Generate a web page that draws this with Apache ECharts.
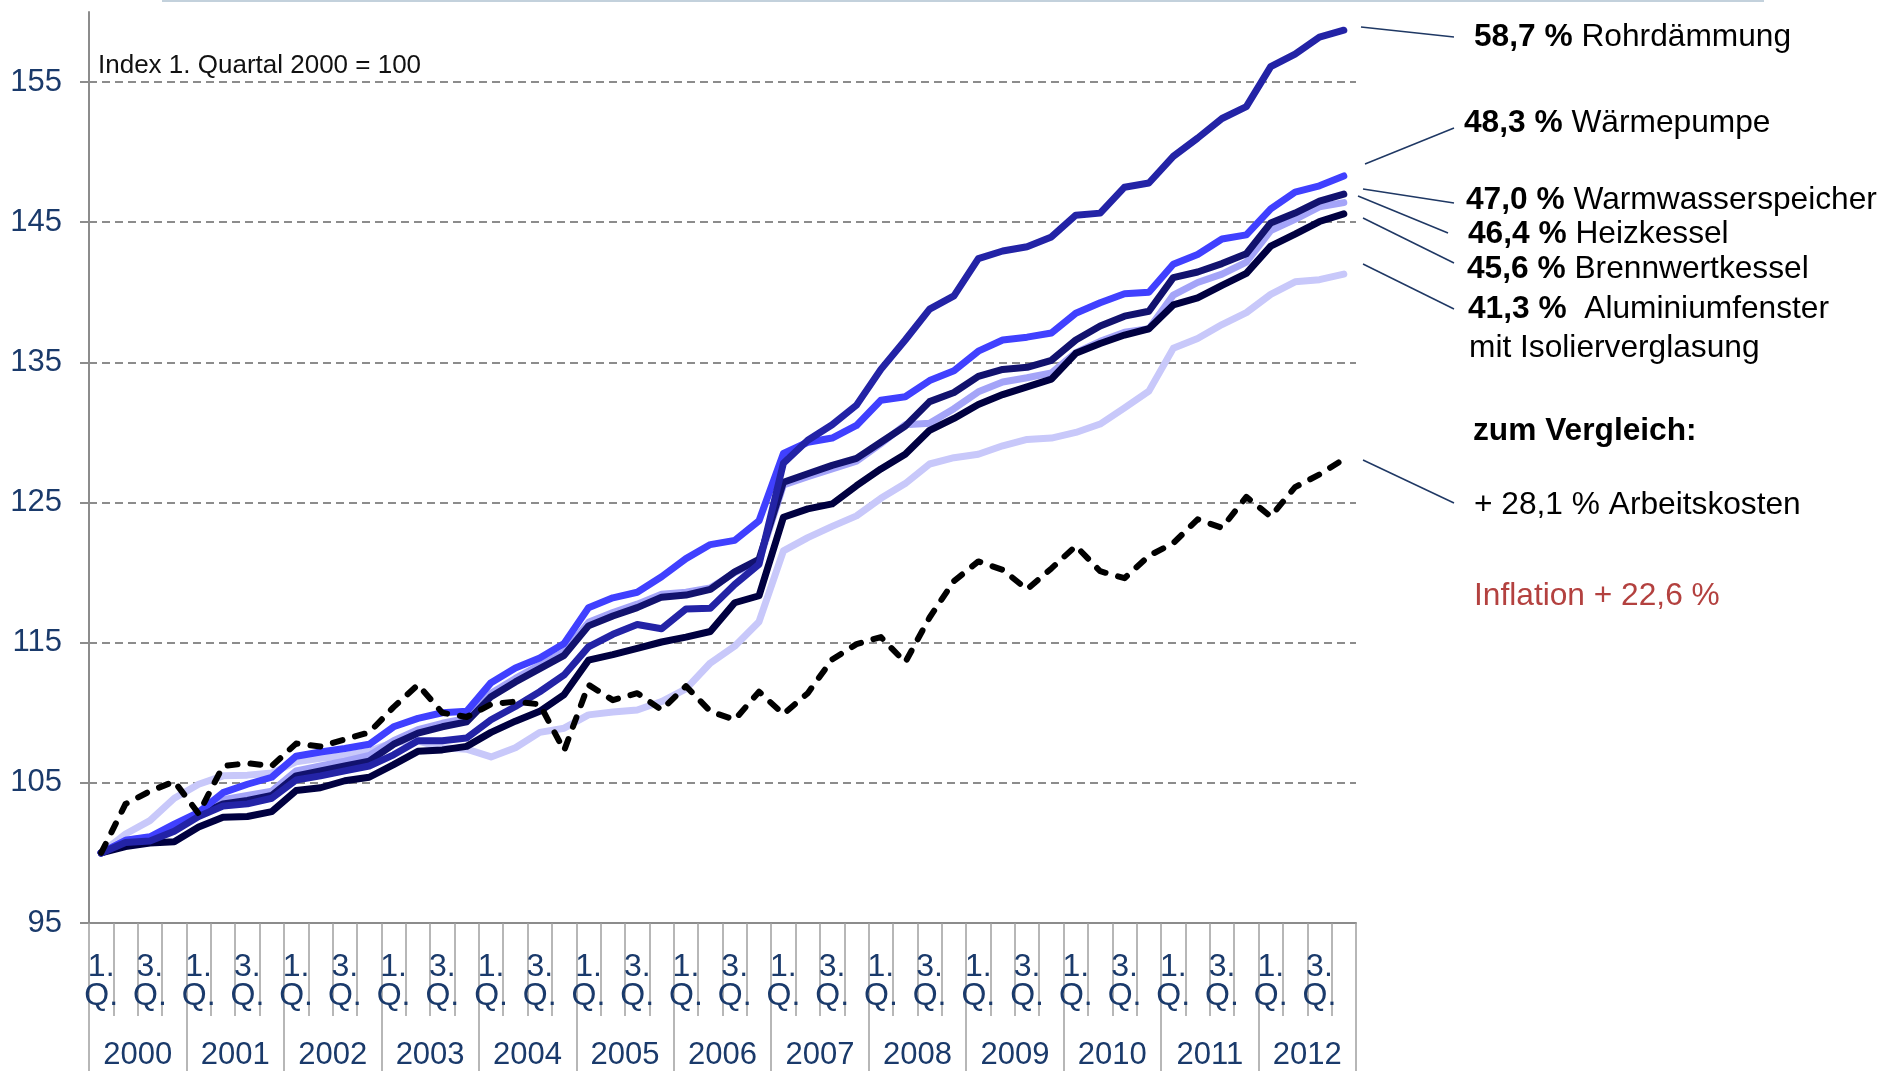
<!DOCTYPE html>
<html>
<head>
<meta charset="utf-8">
<script src="https://cdn.jsdelivr.net/npm/echarts@6/dist/echarts.min.js"></script>
<style>
  html, body { margin: 0; padding: 0; background: #fff; }
  #chart { width: 1882px; height: 1071px; }
</style>
</head>
<body>
<div id="chart"></div>
<script>
// Index 1. Quartal 2000 = 100, quarterly 2000 Q1 .. 2012 Q4
const years = ['2000', '2001', '2002', '2003', '2004', '2005', '2006', '2007', '2008', '2009', '2010', '2011', '2012'];
const quarterMarks = ['1.\nQ.', '', '3.\nQ.', ''];
const yTicks = [95, 105, 115, 125, 135, 145, 155];

const rohrdaemmung = [100, 100.75, 100.85, 101.55, 102.6, 103.35, 103.5, 103.9, 105.2, 105.5, 105.85, 106.2,
  107.0, 108.0, 108.0, 108.2, 109.5, 110.45, 111.5, 112.7, 114.7, 115.6, 116.3, 116.0,
  117.4, 117.45, 119.15, 120.6, 127.8, 129.45, 130.55, 131.95, 134.5, 136.6, 138.8, 139.75,
  142.4, 142.95, 143.25, 143.95, 145.5, 145.65, 147.5, 147.8, 149.7, 151.0, 152.4, 153.25,
  156.1, 157.0, 158.2, 158.7];
const waermepumpe = [100, 100.9, 101.15, 102.05, 102.9, 104.3, 104.9, 105.4, 106.9, 107.2, 107.45, 107.75,
  109.0, 109.6, 110.0, 110.1, 112.15, 113.2, 113.9, 114.95, 117.5, 118.2, 118.6, 119.7,
  121.0, 122.0, 122.3, 123.7, 128.5, 129.3, 129.6, 130.5, 132.3, 132.55, 133.7, 134.4,
  135.8, 136.6, 136.8, 137.1, 138.5, 139.25, 139.9, 140.0, 142.0, 142.7, 143.8, 144.1,
  145.95, 147.15, 147.6, 148.3];
const warmwasserspeicher = [100, 100.8, 100.95, 101.65, 102.7, 103.5, 103.75, 104.1, 105.5, 105.85, 106.2, 106.55,
  107.75, 108.55, 109.0, 109.35, 111.15, 112.2, 113.15, 114.1, 116.2, 116.9, 117.5, 118.25,
  118.4, 118.8, 120.05, 120.95, 126.45, 127.05, 127.65, 128.15, 129.3, 130.45, 132.2, 132.85,
  134.0, 134.5, 134.65, 135.15, 136.6, 137.6, 138.3, 138.65, 141.05, 141.45, 142.05, 142.75,
  144.95, 145.65, 146.5, 147.0];
const heizkessel = [100, 100.9, 101.1, 101.8, 102.85, 103.8, 104.1, 104.4, 105.85, 106.2, 106.55, 106.95,
  108.0, 108.8, 109.25, 109.6, 111.4, 112.45, 113.4, 114.35, 116.45, 117.15, 117.75, 118.45,
  118.6, 118.9, 120.0, 120.8, 126.25, 126.85, 127.4, 127.95, 129.2, 130.55, 130.65, 131.7,
  132.9, 133.6, 133.9, 134.25, 135.7, 136.5, 137.15, 137.4, 139.8, 140.7, 141.3, 142.15,
  144.4, 145.2, 146.1, 146.4];
const brennwertkessel = [100, 100.45, 100.7, 100.8, 101.85, 102.55, 102.6, 102.95, 104.45, 104.65, 105.15, 105.4,
  106.3, 107.25, 107.35, 107.6, 108.6, 109.4, 110.1, 111.3, 113.75, 114.15, 114.6, 115.05,
  115.4, 115.8, 117.85, 118.35, 123.95, 124.55, 124.9, 126.2, 127.4, 128.45, 130.15, 131.0,
  132.0, 132.7, 133.25, 133.8, 135.65, 136.35, 136.95, 137.4, 139.1, 139.6, 140.5, 141.35,
  143.3, 144.15, 145.05, 145.6];
const aluminiumfenster = [100, 101.35, 102.3, 103.9, 104.9, 105.5, 105.55, 105.7, 106.5, 106.75, 106.95, 107.25,
  107.9, 108.0, 107.5, 107.4, 106.85, 107.5, 108.6, 108.9, 109.85, 110.05, 110.2, 110.8,
  111.7, 113.55, 114.75, 116.5, 121.55, 122.5, 123.3, 124.05, 125.3, 126.35, 127.75, 128.2,
  128.45, 129.05, 129.5, 129.6, 130.0, 130.6, 131.75, 132.95, 136.0, 136.7, 137.7, 138.55,
  139.85, 140.75, 140.9, 141.3];
const arbeitskosten = [100, 103.5, 104.4, 105.1, 102.8, 106.2, 106.4, 106.2, 107.8, 107.6, 108.1, 108.6,
  110.4, 112.0, 110.0, 109.7, 110.6, 110.8, 110.6, 107.3, 112.0, 110.9, 111.4, 110.2,
  111.9, 110.1, 109.5, 111.5, 109.9, 111.4, 113.8, 114.9, 115.4, 113.6, 116.8, 119.4,
  120.8, 120.2, 118.8, 120.3, 121.9, 120.1, 119.6, 121.2, 122.1, 123.8, 123.2, 125.4,
  124.0, 126.1, 127.0, 128.1];

const quarters = [];
years.forEach(y => { for (let q = 1; q <= 4; q++) quarters.push(y + ' Q' + q); });

const FONT = '"Liberation Sans", Arial, sans-serif';
const axisBlue = '#1a3a6b';
const gray = '#8c8c8c';

function solid(name, data, color) {
  return {
    name, type: 'line', data, symbol: 'none', silent: true,
    lineStyle: { color, width: 7, cap: 'round', join: 'round' }
  };
}

// annotation texts on the right
function label(x, y, text, fill) {
  return {
    type: 'text', x, y, silent: true,
    style: {
      text, fill: fill || '#000', font: '31.7px ' + FONT,
      verticalAlign: 'middle', textVerticalAlign: 'middle',
      rich: { b: { fontWeight: 'bold', fontSize: 31.7, fontFamily: FONT, fill: '#000' } }
    }
  };
}
function leader(x1, y1, x2, y2) {
  return { type: 'line', silent: true, shape: { x1, y1, x2, y2 }, style: { stroke: '#1f3864', lineWidth: 1.5 } };
}

const chart = echarts.init(document.getElementById('chart'));
chart.setOption({
  animation: false,
  backgroundColor: '#fff',
  grid: { left: 89, right: 526, top: 12, bottom: 147 },
  xAxis: [{
    type: 'category', data: quarters, position: 'bottom', boundaryGap: true,
    axisLine: { show: true, lineStyle: { color: gray, width: 2 } },
    axisTick: { show: true, interval: 0, length: 93, lineStyle: { color: '#a0a0a0', width: 1.5 } },
    axisLabel: {
      interval: 0, formatter: (v, i) => quarterMarks[i % 4],
      fontSize: 32, lineHeight: 29, margin: 30, color: axisBlue, fontFamily: FONT
    },
    splitLine: { show: false }
  }, {
    type: 'category', data: years, position: 'bottom', boundaryGap: true,
    axisLine: { show: false },
    axisTick: { show: true, interval: 0, length: 150, lineStyle: { color: '#a0a0a0', width: 1.5 } },
    axisLabel: { interval: 0, fontSize: 31, margin: 117, color: axisBlue, fontFamily: FONT },
    splitLine: { show: false }
  }],
  yAxis: {
    type: 'value', min: 95, max: 160, interval: 10,
    axisLine: { show: true, lineStyle: { color: gray, width: 2 } },
    axisTick: { show: true, length: 9, customValues: yTicks, lineStyle: { color: gray, width: 2 } },
    axisLabel: { customValues: yTicks, margin: 27, fontSize: 31, color: axisBlue, fontFamily: FONT },
    splitLine: { show: true, showMinLine: false, lineStyle: { color: gray, width: 2, type: [8, 5] } }
  },
  series: [
    solid('Aluminiumfenster mit Isolierverglasung', aluminiumfenster, '#c8c8fa'),
    solid('Heizkessel', heizkessel, '#a4a4f8'),
    solid('Brennwertkessel', brennwertkessel, '#000040'),
    solid('Warmwasserspeicher', warmwasserspeicher, '#12126e'),
    solid('Wärmepumpe', waermepumpe, '#4040ff'),
    solid('Rohrdämmung', rohrdaemmung, '#2323a6'),
    {
      name: 'Arbeitskosten', type: 'line', data: arbeitskosten, symbol: 'none', silent: true,
      lineStyle: { color: '#000', width: 6, type: [10, 13], cap: 'round', join: 'round' }
    }
  ],
  graphic: [
    { type: 'line', silent: true, shape: { x1: 162, y1: 1, x2: 1764, y2: 1 }, style: { stroke: '#c3d1dc', lineWidth: 2 } },
    {
      type: 'text', x: 98, y: 66, silent: true,
      style: { text: 'Index 1. Quartal 2000 = 100', fill: '#111', font: '26px ' + FONT, verticalAlign: 'middle', textVerticalAlign: 'middle' }
    },
    leader(1361, 27, 1454, 37),
    leader(1365, 164, 1454, 128),
    leader(1363, 189, 1454, 203),
    leader(1358, 196, 1448, 233),
    leader(1363, 218, 1454, 263),
    leader(1363, 264, 1454, 309),
    leader(1363, 460, 1454, 503),
    label(1474, 37, '{b|58,7 %} Rohrdämmung'),
    label(1464, 123, '{b|48,3 %} Wärmepumpe'),
    label(1466, 200, '{b|47,0 %} Warmwasserspeicher'),
    label(1468, 234, '{b|46,4 %} Heizkessel'),
    label(1467, 269, '{b|45,6 %} Brennwertkessel'),
    label(1468, 309, '{b|41,3 %}  Aluminiumfenster'),
    label(1469, 348, 'mit Isolierverglasung'),
    label(1473, 431, '{b|zum Vergleich:}'),
    label(1474, 505, '+ 28,1 % Arbeitskosten'),
    label(1474, 596, 'Inflation + 22,6 %', '#b3413f')
  ]
});
</script>
</body>
</html>
